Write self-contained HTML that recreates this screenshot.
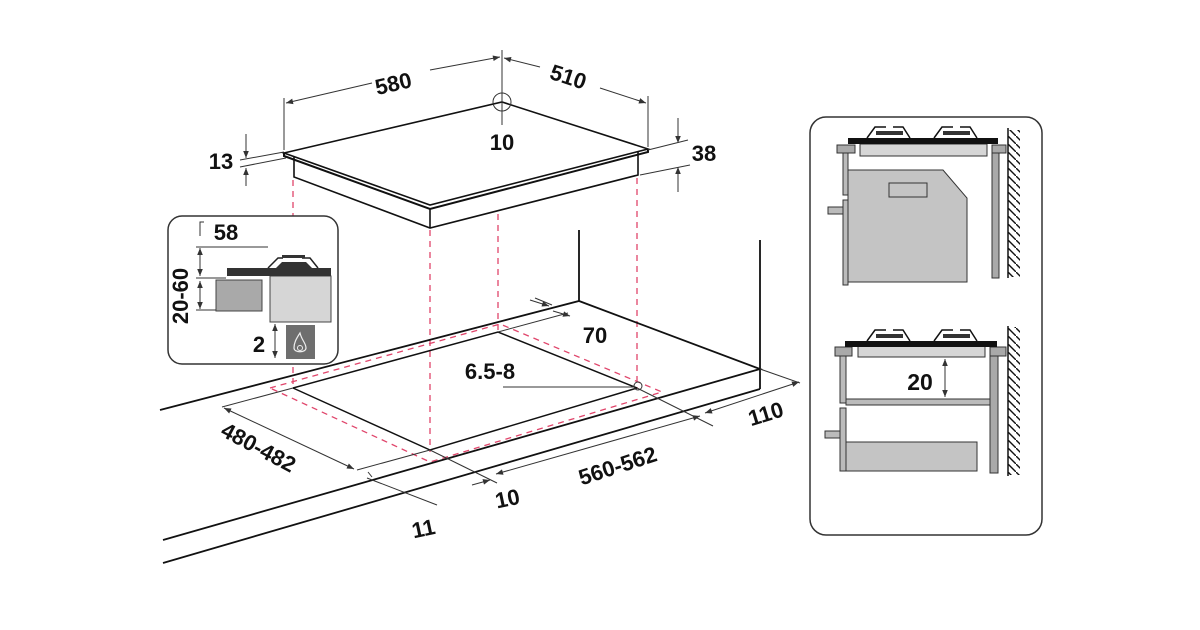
<!DOCTYPE html>
<html><head><meta charset="utf-8"><style>
html,body{margin:0;padding:0;background:#fff;}
svg{display:block}
text{font-family:"Liberation Sans",sans-serif;font-weight:bold;fill:#111;}
</style></head><body>
<svg width="1200" height="630" viewBox="0 0 1200 630" xmlns="http://www.w3.org/2000/svg">
<defs>
<marker id="a" viewBox="0 0 10 10" refX="10" refY="5" markerWidth="9" markerHeight="7" orient="auto-start-reverse" markerUnits="userSpaceOnUse"><path d="M0,1 L10,5 L0,9 z" fill="#333"/></marker>
<pattern id="h" width="8" height="8" patternUnits="userSpaceOnUse"><path d="M0,0 L8,8" stroke="#111" stroke-width="1.4"/></pattern>
</defs>
<g stroke="#111" fill="none" stroke-width="1.6">
<polygon points="284,153 502,102 648,149 430,205" fill="#fff"/>
<path d="M284,153 L284,156 L430,209 L648,152 L648,149" stroke-width="2"/>
<path d="M294,157 L294,177 L430,228 L638,175 L638,152"/>
<path d="M430,209 L430,228"/>
</g>
<g stroke="#e0456b" fill="none" stroke-width="1.3" stroke-dasharray="6,5">
<path d="M293,180 V388 M430,230 V452 M498,214 V330 M637,178 V388"/>
<polygon points="270,388 500,324 662,392 430,462"/>
</g>
<g stroke="#111" fill="none" stroke-width="1.8">
<path d="M160,410 L579,301 L760,369 L163,540"/>
<path d="M579,230 V301 M760,240 V389 M760,389 L163,563"/>
<path d="M293,388 L498,332 L637,388" stroke-width="1.5"/>
<path d="M293,388 L430,450 L637,388" stroke-width="1.5"/>
</g>
<g stroke="#333" fill="none" stroke-width="1">
<path d="M284,150 V98 M648,147 V96 M502,125 V50"/>
<circle cx="502" cy="102" r="9"/>
<path d="M372,83 L286,103" marker-end="url(#a)"/>
<path d="M430,70 L500,57" marker-end="url(#a)"/>
<path d="M540,67 L504,58" marker-end="url(#a)"/>
<path d="M600,88 L646,103" marker-end="url(#a)"/>
<path d="M240,160 L284,152 M240,167 L286,158"/>
<path d="M246,134 V158" marker-end="url(#a)"/><path d="M246,186 V168" marker-end="url(#a)"/>
<path d="M648,150 L688,140 M640,175 L690,165"/>
<path d="M678,118 V143" marker-end="url(#a)"/><path d="M678,192 V167" marker-end="url(#a)"/>
<path d="M498,332 L568,313"/><path d="M553,311 L570,316" marker-end="url(#a)"/>
<path d="M535,298 L552,305"/><path d="M530,300 L549,306" marker-end="url(#a)"/>
<path d="M503,387 L634,387"/><circle cx="638" cy="386" r="4"/>
<path d="M637,388 L713,426 M760,369 L800,383"/>
<path d="M705,413 L799,382" marker-end="url(#a)" marker-start="url(#a)"/>
<path d="M496,474 L700,416" marker-end="url(#a)" marker-start="url(#a)"/>
<path d="M293,388 L222,407 M430,450 L357,470"/>
<path d="M224,408 L354,469" marker-end="url(#a)" marker-start="url(#a)"/>
<path d="M430,450 L497,483"/>
<path d="M472,485 L490,480" marker-end="url(#a)"/>
<path d="M367,478 L437,505"/><path d="M368,472 L372,477" />
</g>
<g font-size="22">
<text x="395" y="91" transform="rotate(-13 395 91)" text-anchor="middle">580</text>
<text x="566" y="84" transform="rotate(18 566 84)" text-anchor="middle">510</text>
<text x="502" y="150" text-anchor="middle">10</text>
<text x="221" y="169" text-anchor="middle">13</text>
<text x="704" y="161" text-anchor="middle">38</text>
<text x="595" y="343" text-anchor="middle">70</text>
<text x="490" y="379" text-anchor="middle">6.5-8</text>
<text x="768" y="421" transform="rotate(-17 768 421)" text-anchor="middle">110</text>
<text x="620" y="473" transform="rotate(-18 620 473)" text-anchor="middle">560-562</text>
<text x="255" y="454" transform="rotate(28 255 454)" text-anchor="middle">480-482</text>
<text x="509" y="506" transform="rotate(-12 509 506)" text-anchor="middle">10</text>
<text x="425" y="536" transform="rotate(-12 425 536)" text-anchor="middle">11</text>
</g>
<rect x="168" y="216" width="170" height="148" rx="14" fill="#fff" stroke="#333" stroke-width="1.5"/>
<rect x="216" y="280" width="46" height="31" fill="#a9a9a9" stroke="#444"/>
<rect x="270" y="276" width="61" height="46" fill="#d6d6d6" stroke="#444"/>
<rect x="286" y="325" width="29" height="34" fill="#6e6e6e"/>
<path d="M300,333 C296,339 294,343 294,348 C294,353 306,353 306,348 C306,343 302,341 300,333 Z" fill="none" stroke="#eee" stroke-width="1.2"/>
<circle cx="300" cy="348" r="2.5" fill="none" stroke="#eee"/>
<rect x="227" y="268" width="104" height="8" fill="#333"/>
<path d="M268,268 L278,258 L283,258 M302,258 L310,258 L318,268" fill="none" stroke="#222" stroke-width="1.5"/>
<path d="M276,268 L282,262 L306,262 L312,268 Z" fill="#333"/>
<rect x="282" y="255" width="23" height="3" fill="#333"/>
<g stroke="#333" fill="none" stroke-width="1">
<path d="M200,236 V222 H204 M196,247 H268 M196,278 H226 M196,310 H216"/>
<path d="M200,248 V276" marker-end="url(#a)" marker-start="url(#a)"/>
<path d="M200,281 V309" marker-end="url(#a)" marker-start="url(#a)"/>
<path d="M275,324 V358" marker-end="url(#a)" marker-start="url(#a)"/>
</g>
<text x="226" y="240" font-size="22" text-anchor="middle">58</text>
<text x="188" y="296" font-size="22" transform="rotate(-90 188 296)" text-anchor="middle">20-60</text>
<text x="259" y="352" font-size="22" text-anchor="middle">2</text>
<rect x="810" y="117" width="232" height="418" rx="16" fill="#fff" stroke="#333" stroke-width="1.5"/>
<g stroke="#333" stroke-width="1">
<rect x="837" y="145" width="18" height="8" fill="#a9a9a9"/>
<rect x="992" y="145" width="14" height="8" fill="#a9a9a9"/>
<rect x="860" y="144" width="127" height="12" fill="#d6d6d6"/>
<rect x="843" y="153" width="5" height="42" fill="#bbb"/>
<rect x="992" y="153" width="7" height="125" fill="#a9a9a9"/>
<path d="M848,170 H943 L967,198 V282 H848 Z" fill="#c4c4c4"/>
<rect x="889" y="183" width="38" height="14" fill="#c4c4c4"/>
<rect x="843" y="200" width="5" height="85" fill="#bbb"/>
<rect x="828" y="207" width="15" height="7" fill="#bbb"/>
<rect x="835" y="347" width="17" height="9" fill="#a9a9a9"/>
<rect x="990" y="347" width="16" height="9" fill="#a9a9a9"/>
<rect x="858" y="346" width="127" height="11" fill="#d6d6d6"/>
<rect x="840" y="356" width="6" height="47" fill="#bbb"/>
<rect x="990" y="356" width="8" height="117" fill="#a9a9a9"/>
<rect x="846" y="399" width="144" height="6" fill="#bbb"/>
<rect x="840" y="408" width="6" height="63" fill="#bbb"/>
<rect x="825" y="431" width="15" height="7" fill="#bbb"/>
<rect x="846" y="442" width="131" height="29" fill="#c4c4c4"/>
</g>
<rect x="848" y="138" width="150" height="6" fill="#111"/>
<rect x="845" y="341" width="152" height="6" fill="#111"/>
<g fill="none" stroke="#111" stroke-width="1.5">
<path d="M867,138 L875,127 L886,127 M893,127 L903,127 L910,138"/>
<path d="M934,138 L942,127 L953,127 M960,127 L970,127 L977,138"/>
<path d="M867,341 L875,330 L886,330 M893,330 L903,330 L910,341"/>
<path d="M934,341 L942,330 L953,330 M960,330 L970,330 L977,341"/>
</g>
<g fill="#333">
<rect x="876" y="131" width="27" height="4"/><rect x="943" y="131" width="27" height="4"/>
<rect x="876" y="334" width="27" height="4"/><rect x="943" y="334" width="27" height="4"/>
</g>
<rect x="1008" y="130" width="12" height="147" fill="url(#h)"/>
<rect x="1008" y="327" width="12" height="148" fill="url(#h)"/>
<path d="M1008,128 V278 M1008,326 V476" stroke="#111" stroke-width="1.5"/>
<path d="M945,359 V397" stroke="#333" marker-end="url(#a)" marker-start="url(#a)"/>
<text x="920" y="390" font-size="23" text-anchor="middle">20</text>
</svg>
</body></html>
